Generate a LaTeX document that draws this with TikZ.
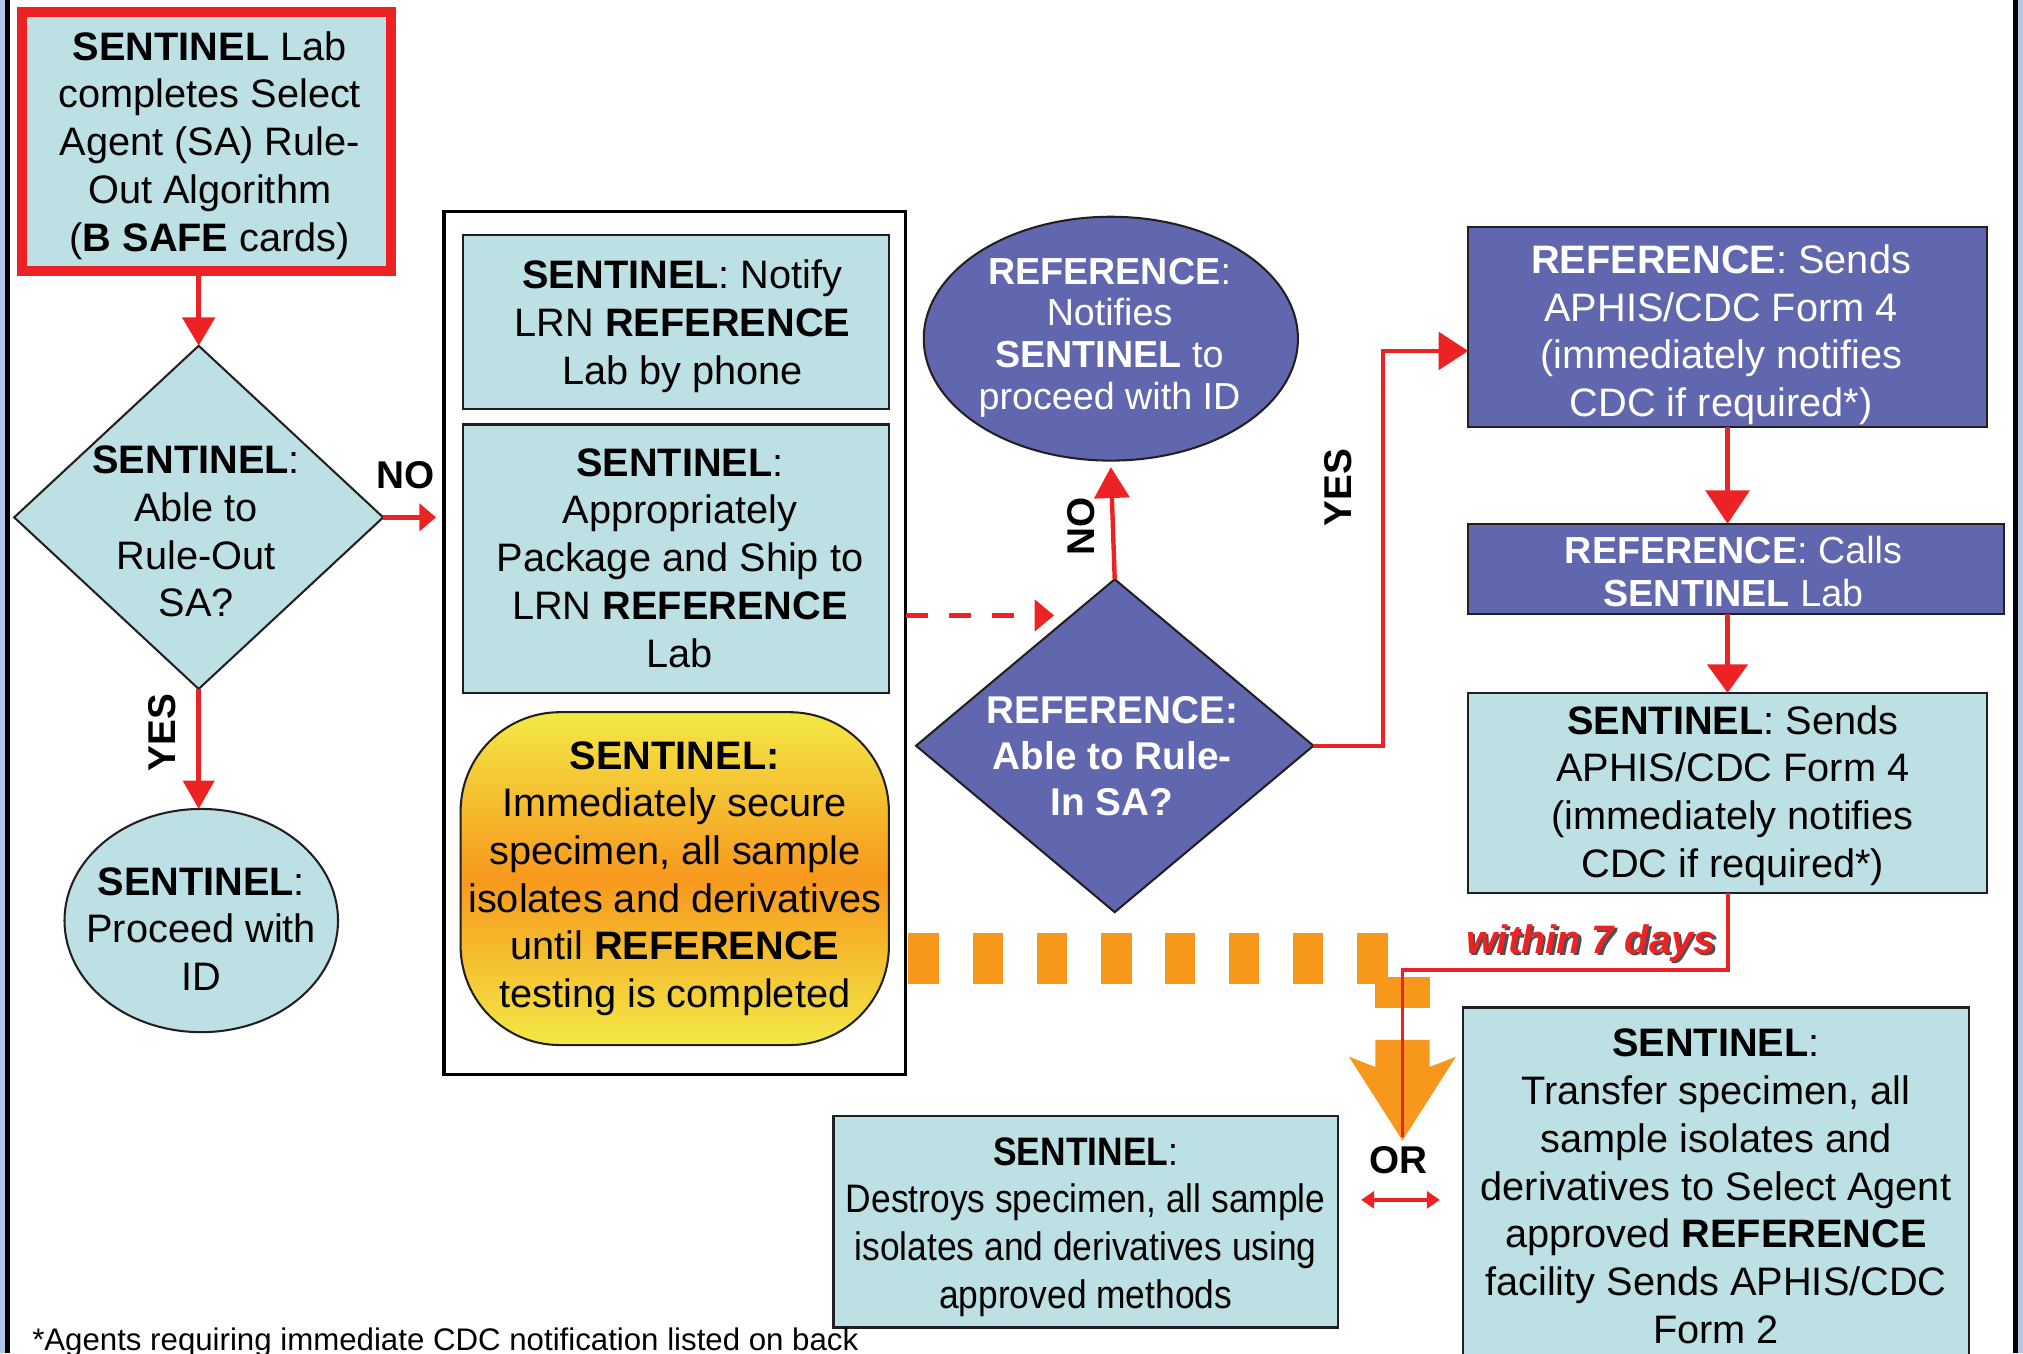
\documentclass[tikz,border=0pt]{standalone}
\usepackage{fontspec}
\setmainfont{Liberation Sans}
\newfontfamily\narrowf[FakeStretch=0.89]{Liberation Sans}
\usetikzlibrary{arrows.meta,shapes.geometric}
\definecolor{lb}{RGB}{189,224,228}
\definecolor{peri}{RGB}{97,103,175}
\definecolor{rd}{RGB}{237,34,36}
\definecolor{org}{RGB}{247,152,29}
\definecolor{yel}{RGB}{243,233,70}
\definecolor{dk}{RGB}{35,31,32}
\definecolor{lav}{RGB}{180,196,232}
\definecolor{shd}{RGB}{80,80,80}
\begin{document}
\begin{tikzpicture}[x=1pt,y=-1pt,
  every node/.style={inner sep=0pt, outer sep=0pt},
  txt/.style={align=center, font=\fontsize{30.8}{37}\selectfont},
  sbox/.style={rectangle, draw=dk, line width=1.8pt, fill=lb},
  pbox/.style={rectangle, draw=dk, line width=1.8pt, fill=peri},
  wtxt/.style={txt, text=white},
  lbl/.style={font=\bfseries\fontsize{30}{36}\selectfont},
  redln/.style={draw=rd, line width=3.4pt},
]
\useasboundingbox (0,0) rectangle (1568,1049);
\clip (0,0) rectangle (1568,1049);
\fill[white] (0,0) rectangle (1568,1049);
% page borders
\fill[lav] (0,0) rectangle (3.9,1049);
\draw[black, line width=3.9pt] (5.85,0) -- (5.85,1049);
\fill[lav] (1564,0) rectangle (1568,1049);
\draw[black, line width=3.9pt] (1562,0) -- (1562,1049);

% ---- left column
\node[sbox, draw=rd, line width=7.75pt, minimum width=286pt, minimum height=200.7pt] (A) at (160.1,109.6) {};
\node[txt] (At) at ([xshift=2.5pt,yshift=-3pt]A.center)
  {\textbf{SENTINEL} Lab\\completes Select\\Agent (SA) Rule-\\Out Algorithm\\(\textbf{B SAFE} cards)};
\node[diamond, draw=dk, line width=1.6pt, fill=lb, minimum width=286pt, minimum height=266pt] (B) at (154,401) {};
\node[txt] (Bt) at (152,412) {\textbf{SENTINEL}:\\Able to\\Rule-Out\\SA?};
\node[ellipse, draw=dk, line width=1.6pt, fill=lb, minimum width=212pt, minimum height=173pt] (C) at (156,713.5) {};
\node[txt] (Ct) at (156,720) {\textbf{SENTINEL}:\\Proceed with\\ID};

% ---- middle group
\node[draw=black, line width=2.6pt, minimum width=358pt, minimum height=669pt] (D) at (523,498.5) {};
\node[sbox, minimum width=330pt, minimum height=135pt] (E1) at (524,249.5) {};
\node[txt] (E1t) at ([xshift=5pt,yshift=-3.5pt]E1.center)
  {\textbf{SENTINEL}: Notify\\LRN \textbf{REFERENCE}\\Lab by phone};
\node[sbox, minimum width=330pt, minimum height=208pt] (E2) at (524,433) {};
\node[txt] (E2t) at ([xshift=3pt,yshift=0.5pt]E2.center)
  {\textbf{SENTINEL}:\\Appropriately\\Package and Ship to\\LRN \textbf{REFERENCE}\\Lab};
\node[txt, draw=dk, line width=1.6pt, rounded corners=77pt, top color=yel, bottom color=yel, middle color=org,
  minimum width=332pt, minimum height=258pt] (E3) at (523,681)
  {\textbf{SENTINEL:}\\Immediately secure\\specimen, all sample\\isolates and derivatives\\until \textbf{REFERENCE}\\testing is completed};

% ---- reference decision
\node[ellipse, draw=dk, line width=1.6pt, fill=peri, minimum width=290pt, minimum height=189pt] (G) at (861,262.5) {};
\node[align=center, text=white, font=\fontsize{29.2}{32.3}\selectfont] (Gt) at (860,261.5)
  {\textbf{REFERENCE}:\\Notifies\\\textbf{SENTINEL} to\\proceed with ID};
\node[diamond, draw=dk, line width=1.6pt, fill=peri, minimum width=308pt, minimum height=258pt] (F) at (864,578) {};
\node[align=center, text=white, font=\bfseries\fontsize{30}{35.5}\selectfont] (Ft) at (862,586)
  {REFERENCE:\\Able to Rule-\\In SA?};

% ---- right column
\node[pbox, minimum width=402pt, minimum height=155pt] (H) at (1339,253.5) {};
\node[wtxt] (Ht) at ([xshift=-5pt,yshift=-6pt]H.center)
  {\textbf{REFERENCE}: Sends\\APHIS/CDC Form 4\\(immediately notifies\\CDC if required*)};
\node[pbox, minimum width=415pt, minimum height=70pt] (I) at (1345.5,441) {};
\node[wtxt, font=\fontsize{29.2}{33}\selectfont] (It) at ([xshift=-2pt,yshift=-2pt]I.center)
  {\textbf{REFERENCE}: Calls\\\textbf{SENTINEL} Lab};
\node[sbox, minimum width=402pt, minimum height=155pt] (J) at (1339,614.5) {};
\node[txt] (Jt) at ([xshift=4pt,yshift=-2pt]J.center)
  {\textbf{SENTINEL}: Sends\\APHIS/CDC Form 4\\(immediately notifies\\CDC if required*)};
\node[sbox, minimum width=391pt, minimum height=164pt] (K) at (841.5,947) {};
\node[txt, font=\narrowf\fontsize{30.8}{37}\selectfont] (Kt) at ([yshift=-4pt]K.center)
  {\textbf{SENTINEL}:\\Destroys specimen, all sample\\isolates and derivatives using\\approved methods};
\node[sbox, minimum width=392pt, minimum height=277pt] (L) at (1330,919.5) {};
\node[txt] (Lt) at (L.center)
  {\textbf{SENTINEL}:\\Transfer specimen, all\\sample isolates and\\derivatives to Select Agent\\approved \textbf{REFERENCE}\\facility Sends APHIS/CDC\\Form 2};

% ---- orange dashed hold path
\foreach \xx in {704,754,803.5,853.5,903,952.5,1002,1052}
  \fill[org] (\xx,723) rectangle ++(23.5,40);
\fill[org] (1066,757) rectangle (1108,781);
\fill[org] (1045.5,819) -- (1087,884) -- (1128.5,819) -- (1108,827) -- (1108,806)
  -- (1066,806) -- (1066,827) -- cycle;

% ---- connectors
\draw[redln, -{Triangle[length=22pt,width=25pt]}] (A.south -| B.north) -- (B.north);
\draw[redln, -{Triangle[length=22pt,width=24pt]}] (B.south) -- (B.south |- C.north);
\draw[redln, -{Triangle[length=13pt,width=21pt]}] (B.east) -- ([xshift=-6pt]B.east -| D.west);
\node[lbl] (noL) at (314,368) {NO};
\node[lbl, rotate=90] (yesL) at (126,568) {YES};

\coordinate (dashEnd) at (817,477);
\draw[redln, dash pattern=on 17pt off 16.5pt, -{Triangle[length=15pt,width=24pt]}] (D.east |- dashEnd) -- (dashEnd);

\draw[redln, -{Triangle[length=24pt,width=27pt]}] (F.north) -- ([yshift=-5pt]G.south);
\node[lbl, rotate=90] (noF) at (838,408) {NO};

\coordinate (yesTurn) at (1072,272);
\draw[redln, -{Triangle[length=23pt,width=29pt]}] (F.east) -| (yesTurn) -- (yesTurn -| H.west);
\node[lbl, rotate=90] (yesF) at (1037,378) {YES};

\draw[redln, -{Triangle[length=26pt,width=34pt]}] (H.south) -- (H.south |- I.north);
\draw[redln, -{Triangle[length=22pt,width=31pt]}] (I.south -| J.north) -- (J.north);

\coordinate (bend) at (1087,752);
\coordinate (orTip) at (1087,881);
\draw[redln, line width=3pt] (J.south) |- (bend) -- (orTip);
\node[font=\bfseries\itshape\fontsize{30.8}{37}\selectfont, text=shd] (w7s) at (1235,733) {within 7 days};
\node[font=\bfseries\itshape\fontsize{30.8}{37}\selectfont, text=rd] (w7) at (1233,731) {within 7 days};

\node[lbl] (or) at (1084,899) {OR};
\coordinate (orL) at (1055,930);
\coordinate (orR) at (1116,930);
\draw[draw=rd, line width=3pt, {Triangle[length=10pt,width=13pt]}-{Triangle[length=10pt,width=13pt]}] (orL) -- (orR);

\node[anchor=base west, font=\fontsize{24.2}{29}\selectfont] (foot) at (25,1047)
  {*Agents requiring immediate CDC notification listed on back};
\end{tikzpicture}
\end{document}
